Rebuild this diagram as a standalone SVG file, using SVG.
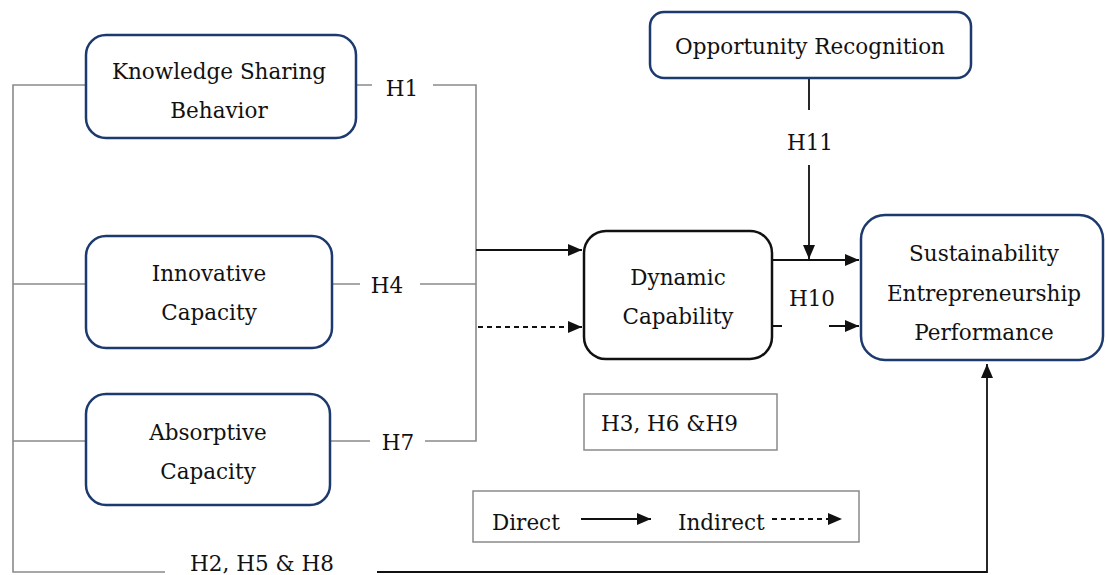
<svg xmlns="http://www.w3.org/2000/svg" width="1106" height="575" viewBox="0 0 1106 575" font-family="'DejaVu Serif', 'Liberation Serif', serif">
<style>
text{font-family:'DejaVu Serif','Liberation Serif',serif;font-size:21.5px;fill:#111;}
.c{text-anchor:middle;}
.blue{fill:#fff;stroke:#1c3a6e;stroke-width:2.5;}
.blk{fill:#fff;stroke:#111;stroke-width:2.5;}
.gray{fill:none;stroke:#8a8a8a;stroke-width:1.6;}
.gbox{fill:#fff;stroke:#8a8a8a;stroke-width:1.5;}
.arr{fill:none;stroke:#111;stroke-width:1.8;}
.dash{stroke-dasharray:5 4;}
</style>
<defs>
<marker id="ahb" viewBox="0 0 14 12" refX="14" refY="6" markerWidth="14" markerHeight="12" markerUnits="userSpaceOnUse" orient="auto"><path d="M0,0 L14,6 L0,12 z" fill="#111"/></marker>
</defs>
<g id="connectors">
<path class="gray" d="M86,85 H13 V572 H165"/>
<path class="gray" d="M86,284 H13"/>
<path class="gray" d="M86,441 H13"/>
<path class="gray" d="M356,85 H372 M433,85 H476 V441 H425 M370,441 H330"/>
<path class="gray" d="M332,284 H360 M420,284 H476"/>
<path class="arr" d="M377,572 H987 V364" marker-end="url(#ahb)"/>
<path class="arr" d="M476,250 H582" marker-end="url(#ahb)"/>
<path class="arr dash" d="M478,327 H582" marker-end="url(#ahb)"/>
<path class="arr" d="M772,260 H859" marker-end="url(#ahb)"/>
<path class="arr" d="M809,78 V110 M809,165 V259" marker-end="url(#ahb)"/>
<path class="arr" d="M772,326 H782 M829,326 H859" marker-end="url(#ahb)"/>
<text x="402" y="96" class="c">H1</text>
<text x="387" y="293" class="c">H4</text>
<text x="398" y="450" class="c">H7</text>
<text x="262" y="571" class="c">H2, H5 &amp; H8</text>
<text x="810" y="150" class="c">H11</text>
<text x="812" y="306" class="c">H10</text>
</g>
<g id="ksb">
<rect class="blue" x="86" y="35" width="270" height="103" rx="20"/>
<text x="219" y="79" class="c">Knowledge Sharing</text>
<text x="219" y="118" class="c">Behavior</text>
</g>
<g id="ic">
<rect class="blue" x="86" y="236" width="246" height="112" rx="20"/>
<text x="209" y="281" class="c">Innovative</text>
<text x="209" y="320" class="c">Capacity</text>
</g>
<g id="ac">
<rect class="blue" x="86" y="394" width="244" height="111" rx="20"/>
<text x="208" y="440" class="c">Absorptive</text>
<text x="208" y="479" class="c">Capacity</text>
</g>
<g id="dc">
<rect class="blk" x="584" y="231" width="188" height="128" rx="22"/>
<text x="678" y="285" class="c">Dynamic</text>
<text x="678" y="324" class="c">Capability</text>
</g>
<g id="or">
<rect class="blue" x="650" y="12" width="321" height="66" rx="14"/>
<text x="810" y="54" class="c">Opportunity Recognition</text>
</g>
<g id="sep">
<rect class="blue" x="861" y="215" width="242" height="145" rx="24"/>
<text x="984" y="261" class="c">Sustainability</text>
<text x="984" y="301" class="c">Entrepreneurship</text>
<text x="984" y="340" class="c">Performance</text>
</g>
<g id="hyp">
<rect class="gbox" x="584" y="394" width="193" height="56"/>
<text x="601" y="431">H3, H6 &amp;H9</text>
</g>
<g id="legend">
<rect class="gbox" x="473" y="491" width="386" height="51"/>
<text x="492" y="530">Direct</text>
<text x="678" y="530">Indirect</text>
<path class="arr" d="M581,519 H651" marker-end="url(#ahb)"/>
<path class="arr dash" d="M772,519 H842" marker-end="url(#ahb)"/>
</g>
</svg>
